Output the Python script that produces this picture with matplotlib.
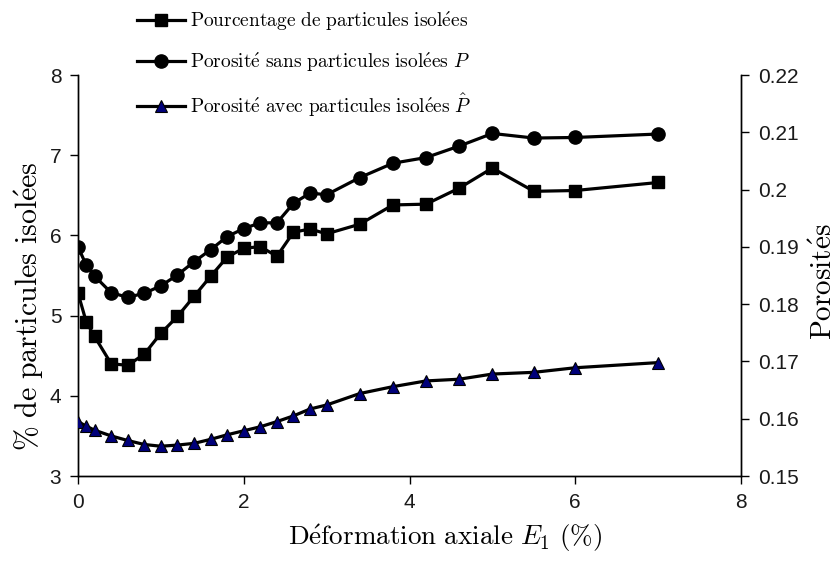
import numpy as np
import matplotlib
matplotlib.use("Agg")
import matplotlib.pyplot as plt
from matplotlib.ticker import FuncFormatter

plt.rcParams["mathtext.fontset"] = "cm"

# axial strain E1 (%)
deformation = [0, 0.1, 0.2, 0.4, 0.6, 0.8, 1.0, 1.2, 1.4, 1.6, 1.8, 2.0, 2.2,
               2.4, 2.6, 2.8, 3.0, 3.4, 3.8, 4.2, 4.6, 5.0, 5.5, 6.0, 7.0]

# percentage of isolated particles (left axis)
pct_isolees = [5.28, 4.92, 4.74, 4.40, 4.38, 4.52, 4.78, 4.99, 5.24, 5.49,
               5.73, 5.84, 5.86, 5.74, 6.04, 6.08, 6.02, 6.14, 6.38, 6.39,
               6.59, 6.84, 6.55, 6.56, 6.66]

# porosities (right axis)
poro_sans = [0.1900, 0.1868, 0.1849, 0.1820, 0.1812, 0.1819, 0.1832, 0.1851,
             0.1874, 0.1895, 0.1918, 0.1932, 0.1942, 0.1942, 0.1976, 0.1994,
             0.1991, 0.2021, 0.2046, 0.2056, 0.2076, 0.2098, 0.2090, 0.2091,
             0.2097]
poro_avec = [0.1595, 0.1587, 0.1580, 0.1570, 0.1562, 0.1555, 0.1552, 0.1554,
             0.1557, 0.1564, 0.1572, 0.1579, 0.1586, 0.1595, 0.1605, 0.1617,
             0.1624, 0.1644, 0.1656, 0.1666, 0.1669, 0.1678, 0.1681, 0.1689,
             0.1698]

x_ticks = [0, 2, 4, 6, 8]
left_ticks = [3, 4, 5, 6, 7, 8]
right_ticks = [0.15, 0.16, 0.17, 0.18, 0.19, 0.20, 0.21, 0.22]

labels = [r"$\mathrm{Pourcentage\ de\ particules\ isol\acute{e}es}$",
          r"$\mathrm{Porosit\acute{e}\ sans\ particules\ isol\acute{e}es}\ P$",
          r"$\mathrm{Porosit\acute{e}\ avec\ particules\ isol\acute{e}es}\ \hat{P}$"]

fig = plt.figure(figsize=(8.37, 5.65), dpi=100)
ax = fig.add_axes([0.0932, 0.1575, 0.7921, 0.7097])
ax2 = ax.twinx()

l1, = ax.plot(deformation, pct_isolees, color="black", lw=2.3, marker="s",
              ms=8.5, zorder=3)
l2, = ax2.plot(deformation, poro_sans, color="black", lw=2.3, marker="o",
               ms=9.5, zorder=3)
l3, = ax2.plot(deformation, poro_avec, color="black", lw=2.3, marker="^",
               ms=8, mfc="#00007a", mec="black", mew=0.8, zorder=3)

ax.set_xlim(0, 8)
ax.set_ylim(3, 8)
ax2.set_ylim(0.15, 0.22)
ax.set_xticks(x_ticks)
ax.set_yticks(left_ticks)
ax2.set_yticks(right_ticks)
ax2.yaxis.set_major_formatter(FuncFormatter(lambda v, p: f"{v:g}"))

for a in (ax, ax2):
    a.spines["top"].set_visible(False)
    for s in a.spines.values():
        s.set_linewidth(1.0)
    a.tick_params(direction="out", length=6, width=1.0, labelsize=15,
                  labelcolor="#1a1a1a", pad=6)
    for lab in a.get_xticklabels() + a.get_yticklabels():
        lab.set_family("Liberation Sans")

ax.set_xlabel(r"$\mathrm{D\acute{e}formation\ axiale}\ E_1\ (\%)$",
              fontsize=19.5, labelpad=8, x=0.553)
ax.set_ylabel(r"$\%\ \mathrm{de\ particules\ isol\acute{e}es}$",
              fontsize=21.5, labelpad=3, y=0.424)
ax2.set_ylabel(r"$\mathrm{Porosit\acute{e}s}$", fontsize=21, labelpad=8,
               y=0.485)

fig.legend([l1, l2, l3], labels, loc="upper left",
           bbox_to_anchor=(137 / 837, 0.983), frameon=False, fontsize=14,
           handlelength=2.45, handletextpad=0.28, labelspacing=0.9,
           borderpad=0, borderaxespad=0)

fig.savefig("out.png", dpi=100)
